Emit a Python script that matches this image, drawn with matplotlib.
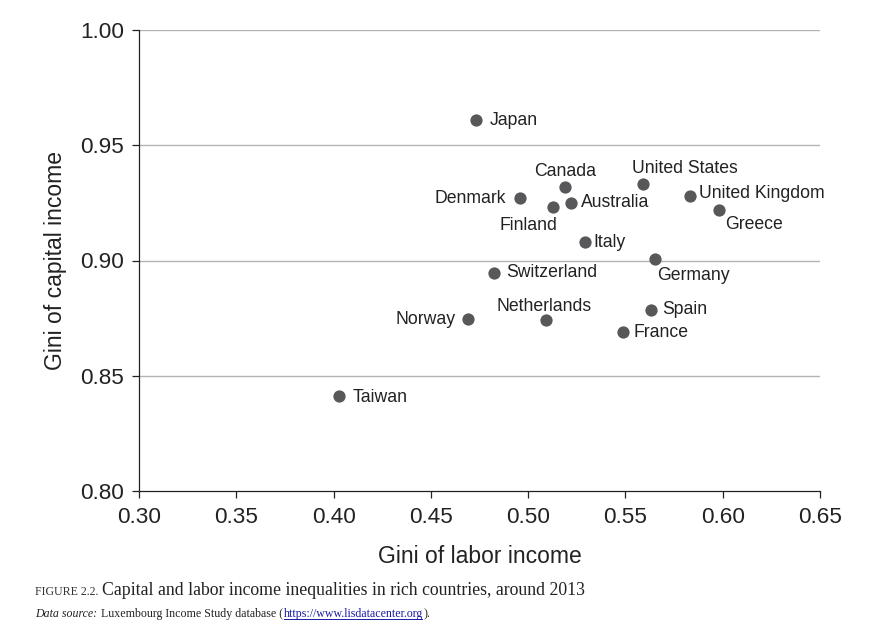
import matplotlib
matplotlib.use("Agg")
import matplotlib.pyplot as plt

countries = ["Japan", "Canada", "Denmark", "Finland", "Australia", "United States",
             "United Kingdom", "Greece", "Italy", "Germany", "Switzerland", "Norway",
             "Netherlands", "Spain", "France", "Taiwan"]
gini_labor = [0.473, 0.519, 0.496, 0.513, 0.522, 0.559, 0.583, 0.598, 0.529, 0.565,
              0.4825, 0.469, 0.509, 0.563, 0.549, 0.403]
gini_capital = [0.961, 0.932, 0.927, 0.923, 0.925, 0.933, 0.928, 0.922, 0.908, 0.9005,
                0.8946, 0.8746, 0.8741, 0.8786, 0.8688, 0.8412]
x_ticks = [0.30, 0.35, 0.40, 0.45, 0.50, 0.55, 0.60, 0.65]
y_ticks = [0.80, 0.85, 0.90, 0.95, 1.00]

# label placement: (dx px, dy px, ha, va)
label_pos = {
    "Japan": (14, -1, "left", "center"),
    "Canada": (0, 15, "center", "center"),
    "Denmark": (-14, 0, "right", "center"),
    "Finland": (-25, -18, "center", "center"),
    "Australia": (10, 0, "left", "center"),
    "United States": (42, 16, "center", "center"),
    "United Kingdom": (9, 2, "left", "center"),
    "Greece": (6, -15, "left", "center"),
    "Italy": (9, 0, "left", "center"),
    "Germany": (3, -16, "left", "center"),
    "Switzerland": (12, 0, "left", "center"),
    "Norway": (-12, 0, "right", "center"),
    "Netherlands": (-2, 14, "center", "center"),
    "Spain": (11, 0, "left", "center"),
    "France": (10, 0, "left", "center"),
    "Taiwan": (13, -1, "left", "center"),
}

plt.rcParams["font.family"] = ["Liberation Sans", "DejaVu Sans"]
fig = plt.figure(figsize=(8.86, 6.39), dpi=100)
ax = fig.add_axes([139/886, 1-491/639, (820-139)/886, (491-30)/639])

ax.scatter(gini_labor, gini_capital, s=78, color="#58585b", zorder=3, linewidths=0)
for c, x, y in zip(countries, gini_labor, gini_capital):
    dx, dy, ha, va = label_pos[c]
    ax.annotate(c, (x, y), xytext=(dx, dy), textcoords="offset pixels",
                ha=ha, va=va, fontsize=12.7, color="#222222")

ax.set_xlim(0.30, 0.65)
ax.set_ylim(0.80, 1.00)
ax.set_xticks(x_ticks)
ax.set_yticks(y_ticks)
ax.set_xticklabels([f"{v:.2f}" for v in x_ticks])
ax.set_yticklabels([f"{v:.2f}" for v in y_ticks])
ax.tick_params(labelsize=16.2, length=5, width=0.9, color="#222222", labelcolor="#222222")
ax.tick_params(axis="x", pad=6.5)
ax.tick_params(axis="y", pad=5.5)
for v in y_ticks[1:]:
    ax.axhline(v, color="#b3b3b3", lw=1.0, zorder=1)
for s in ["top", "right"]:
    ax.spines[s].set_visible(False)
for s in ["left", "bottom"]:
    ax.spines[s].set_linewidth(0.9)
    ax.spines[s].set_color("#222222")

ax.set_xlabel("Gini of labor income", fontsize=16.5, color="#222222", labelpad=12)
ax.set_ylabel("Gini of capital income", fontsize=16.5, color="#222222", labelpad=10)

# caption
fig.canvas.draw()
r = fig.canvas.get_renderer()

serif = ["Liberation Serif", "DejaVu Serif"]
t1 = fig.text(35/886, 1-595/639, "FIGURE 2.2.", family=serif, fontsize=8.6, color="#333333", va="baseline")
bb = t1.get_window_extent(renderer=r)
fig.text((bb.x1 + 4)/886, 1-595/639, "Capital and labor income inequalities in rich countries, around 2013",
         family=serif, fontsize=12.8, color="#222222", va="baseline")

pieces = [("Data source:", dict(style="italic"), 1),
          (" Luxembourg Income Study database (", {}, 1),
          ("https://www.lisdatacenter.org", dict(color="#1a1aa6"), 0),
          (").", {}, 0)]
xp = 35
for txt, kw, gap in pieces:
    col = kw.pop("color", "#222222")
    t = fig.text(xp/886, 1-617/639, txt, family=serif, fontsize=8.6, color=col, va="baseline", **kw)
    b = t.get_window_extent(renderer=r)
    if col != "#222222":
        fig.add_artist(plt.Line2D([b.x0/886, (b.x1 - 2)/886], [1-619/639, 1-619/639],
                                  color=col, lw=0.7, transform=fig.transFigure))
    xp = b.x1 + gap

fig.savefig("out.png", dpi=100)
